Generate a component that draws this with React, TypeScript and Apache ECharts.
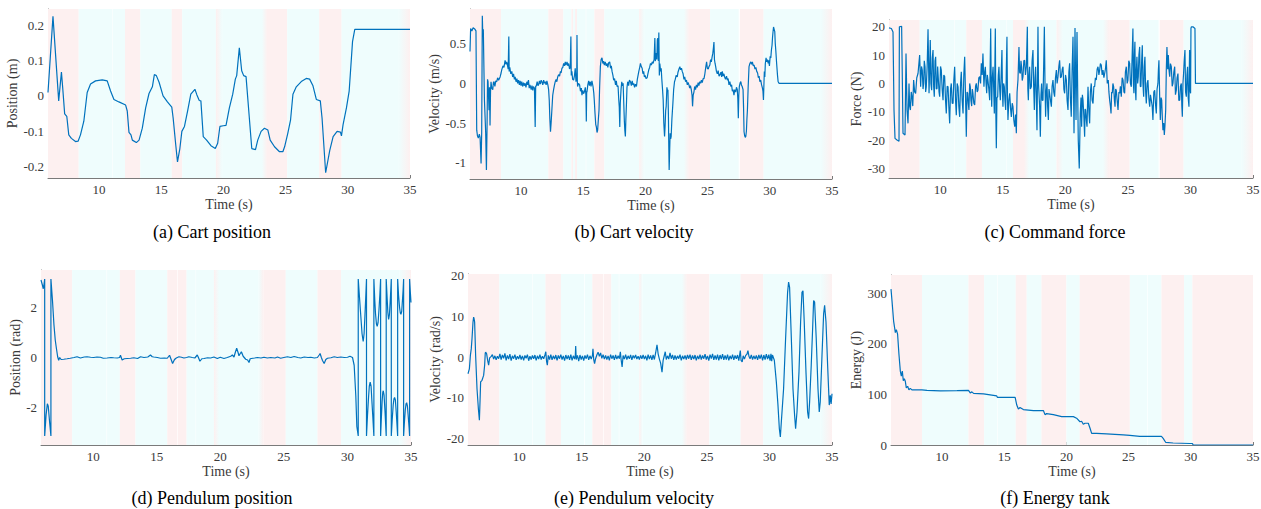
import React, { useEffect, useRef } from "react";
import * as echarts from "echarts";

const X_MIN = 5.9;
const X_MAX = 35;
const LINE_COLOR = "#0072bd";
const PINK = "#fdf0f0";
const CYAN = "#effdfd";

const xTicks = [10, 15, 20, 25, 30, 35];

const cartPosition: [number, number][] = [
  [5.9, 0.01], [6.3, 0.227], [6.76, -0.014], [6.98, 0.068], [7.08, 0.024], [7.24, -0.051], [7.41, -0.058],
  [7.57, -0.111], [7.78, -0.121], [8.11, -0.13], [8.32, -0.129], [8.51, -0.111], [8.78, -0.072], [9.05, 0.01],
  [9.32, 0.034], [9.72, 0.043], [10.26, 0.046], [10.66, 0.043], [10.93, 0.014], [11.2, -0.01], [11.6, -0.017],
  [12.14, -0.026], [12.27, -0.043], [12.41, -0.104], [12.57, -0.111], [12.68, -0.126], [13.0, -0.133],
  [13.22, -0.126], [13.48, -0.092], [13.75, -0.034], [14.02, 0.007], [14.29, 0.026], [14.45, 0.061],
  [14.61, 0.058], [14.83, 0.039], [15.15, 0.0], [15.5, -0.017], [15.85, -0.032], [15.96, -0.063],
  [16.17, -0.14], [16.31, -0.188], [16.5, -0.15], [16.66, -0.101], [16.87, -0.087], [17.12, -0.043],
  [17.38, 0.005], [17.71, 0.019], [17.87, 0.003], [18.06, -0.013], [18.19, -0.014], [18.38, -0.116],
  [18.65, -0.126], [19.0, -0.142], [19.35, -0.15], [19.54, -0.135], [19.72, -0.087], [19.99, -0.085],
  [20.21, -0.084], [20.48, -0.034], [20.75, 0.005], [20.96, 0.048], [21.07, 0.058], [21.28, 0.137],
  [21.47, 0.072], [21.63, 0.058], [21.82, 0.055], [22.04, -0.043], [22.28, -0.15], [22.58, -0.153],
  [22.76, -0.126], [23.03, -0.101], [23.3, -0.092], [23.57, -0.097], [23.76, -0.126], [24.11, -0.145],
  [24.51, -0.159], [24.78, -0.159], [24.92, -0.145], [25.18, -0.106], [25.4, -0.068], [25.59, 0.005],
  [25.86, 0.026], [26.26, 0.041], [26.66, 0.05], [26.93, 0.048], [27.2, 0.029], [27.47, -0.01],
  [27.79, -0.014], [27.93, -0.063], [28.22, -0.219], [28.55, -0.155], [28.82, -0.116], [29.14, -0.101],
  [29.41, -0.103], [29.49, -0.114], [29.62, -0.082], [29.89, -0.034], [30.11, 0.014], [30.38, 0.155],
  [30.56, 0.19], [35, 0.19],
];

const cartVelocity: [number, number][] = [
  [5.9, 0.4], [5.95, 0.69], [6.05, 0.66], [6.15, 0.7], [6.3, 0.68], [6.38, 0.66], [6.44, -0.59], [6.5, -0.66],
  [6.57, -0.69], [6.65, -0.64], [6.71, -0.68], [6.79, -1.01], [6.84, -0.62], [6.89, 0.85], [6.93, 0.6],
  [6.97, 0.68], [7.06, -0.21], [7.16, -0.62], [7.22, -1.09], [7.27, -0.55], [7.31, 0.05], [7.35, 0.02],
  [7.43, -0.34], [7.47, -0.05], [7.51, -0.53], [7.55, -0.1], [7.59, 0.02], [7.65, -0.06], [7.73, -0.08],
  [7.78, 0.01], [7.83, 0.02], [7.9, -0.04], [7.97, 0.03], [8.05, 0.02], [8.12, 0.07], [8.2, 0.04], [8.32, 0.08],
  [8.4, 0.13], [8.45, 0.17], [8.55, 0.22], [8.63, 0.2], [8.72, 0.29], [8.8, 0.24], [8.85, 0.27], [8.91, 0.23],
  [8.97, 0.18], [9.02, 0.59], [9.05, 0.15], [9.1, 0.2], [9.18, 0.12], [9.26, 0.15], [9.33, 0.08], [9.4, 0.12],
  [9.47, 0.05], [9.53, 0.08], [9.6, 0.02], [9.67, 0.06], [9.73, 0.0], [9.8, 0.04], [9.87, -0.02], [9.93, 0.03],
  [10.0, -0.03], [10.06, 0.02], [10.13, -0.04], [10.2, 0.01], [10.26, -0.03], [10.33, 0.0], [10.4, -0.05],
  [10.47, 0.02], [10.53, -0.02], [10.6, 0.04], [10.66, -0.06], [10.72, -0.02], [10.82, -0.08], [10.88, -0.03],
  [10.95, -0.09], [11.0, -0.04], [11.08, -0.06], [11.14, -0.55], [11.18, -0.03], [11.22, -0.04], [11.3, 0.02],
  [11.36, -0.03], [11.41, -0.02], [11.48, 0.03], [11.55, -0.01], [11.62, 0.04], [11.68, 0.02], [11.75, -0.02],
  [11.82, 0.04], [11.88, 0.0], [11.95, 0.02], [12.02, -0.02], [12.08, 0.03], [12.16, -0.02], [12.22, -0.08],
  [12.27, -0.21], [12.32, -0.45], [12.37, -0.61], [12.42, -0.5], [12.48, -0.34], [12.55, -0.15], [12.62, -0.08],
  [12.68, -0.03], [12.75, 0.02], [12.82, 0.05], [12.88, 0.02], [12.95, 0.08], [13.02, 0.11], [13.1, 0.09],
  [13.17, 0.15], [13.22, 0.13], [13.29, 0.19], [13.36, 0.2], [13.43, 0.25], [13.5, 0.22], [13.56, 0.27],
  [13.62, 0.23], [13.7, 0.27], [13.77, 0.22], [13.83, 0.25], [13.9, 0.18], [13.96, 0.2], [14.01, 0.59],
  [14.04, 0.1], [14.09, 0.15], [14.15, 0.05], [14.23, 0.04], [14.3, 0.1], [14.36, 0.19], [14.42, 0.02],
  [14.48, 0.08], [14.5, 0.61], [14.53, 0.02], [14.55, -0.04], [14.62, 0.0], [14.71, -0.02], [14.78, -0.1],
  [14.85, -0.06], [14.9, -0.15], [14.96, -0.09], [15.03, -0.13], [15.09, -0.11], [15.17, -0.05], [15.22, -0.15],
  [15.25, -0.48], [15.28, -0.1], [15.3, -0.11], [15.37, -0.02], [15.44, 0.03], [15.5, -0.03], [15.57, 0.02],
  [15.63, -0.04], [15.7, 0.03], [15.79, -0.04], [15.85, -0.12], [15.89, -0.21], [15.95, -0.38], [16.01, -0.52],
  [16.06, -0.55], [16.11, -0.62], [16.16, -0.59], [16.22, -0.45], [16.27, -0.34], [16.32, -0.05], [16.38, 0.21],
  [16.44, 0.3], [16.51, 0.32], [16.58, 0.25], [16.64, 0.28], [16.7, 0.23], [16.77, 0.27], [16.85, 0.22],
  [16.92, 0.25], [16.98, 0.2], [17.05, 0.26], [17.13, 0.27], [17.2, 0.19], [17.26, 0.22], [17.32, 0.15],
  [17.39, 0.1], [17.45, 0.04], [17.52, 0.06], [17.6, -0.02], [17.66, 0.03], [17.72, -0.04], [17.8, -0.03],
  [17.86, -0.21], [17.9, -0.3], [17.94, -0.55], [17.98, -0.25], [18.04, -0.08], [18.1, 0.02], [18.15, -0.03],
  [18.21, 0.0], [18.26, -0.25], [18.31, -0.48], [18.35, -0.6], [18.39, -0.67], [18.43, -0.45], [18.47, -0.29],
  [18.52, -0.05], [18.58, 0.02], [18.65, -0.03], [18.72, 0.04], [18.8, 0.02], [18.87, -0.03], [18.94, 0.03],
  [19.0, -0.02], [19.06, 0.0], [19.13, -0.05], [19.2, -0.01], [19.28, -0.04], [19.35, 0.05], [19.41, 0.1],
  [19.47, 0.15], [19.53, 0.19], [19.6, 0.25], [19.67, 0.21], [19.74, 0.19], [19.8, 0.12], [19.86, 0.15],
  [19.92, 0.08], [19.98, 0.1], [20.05, 0.06], [20.14, 0.07], [20.2, 0.12], [20.27, 0.17], [20.34, 0.2],
  [20.41, 0.25], [20.48, 0.23], [20.55, 0.27], [20.62, 0.25], [20.7, 0.3], [20.76, 0.57], [20.8, 0.28],
  [20.86, 0.38], [20.92, 0.3], [20.96, 0.55], [21.0, 0.57], [21.04, 0.28], [21.08, 0.64], [21.12, 0.1],
  [21.16, 0.25], [21.22, 0.15], [21.27, 0.19], [21.32, 0.05], [21.38, -0.08], [21.43, -0.21], [21.48, -0.5],
  [21.54, -0.67], [21.58, -0.55], [21.63, -0.34], [21.67, -0.29], [21.73, -0.05], [21.78, -0.1], [21.81, -0.08],
  [21.85, -0.4], [21.88, -0.8], [21.91, -1.09], [21.95, -0.85], [21.99, -0.63], [22.03, -0.7], [22.07, -0.67],
  [22.13, -0.45], [22.21, -0.25], [22.27, -0.08], [22.34, 0.02], [22.4, 0.05], [22.47, 0.1], [22.56, 0.08],
  [22.62, 0.14], [22.7, 0.18], [22.77, 0.21], [22.83, 0.17], [22.9, 0.19], [22.96, 0.15], [23.03, 0.12],
  [23.1, 0.05], [23.16, 0.08], [23.23, 0.02], [23.3, 0.04], [23.37, -0.02], [23.43, 0.01], [23.5, -0.02],
  [23.56, -0.06], [23.62, -0.03], [23.69, -0.08], [23.75, -0.15], [23.79, -0.29], [23.84, -0.15], [23.9, -0.11],
  [23.96, -0.04], [24.03, -0.08], [24.1, -0.02], [24.17, -0.05], [24.24, 0.01], [24.3, -0.03], [24.37, 0.02],
  [24.44, 0.0], [24.5, 0.04], [24.57, 0.01], [24.64, 0.06], [24.71, 0.06], [24.78, 0.12], [24.85, 0.2],
  [24.92, 0.27], [24.98, 0.19], [25.05, 0.18], [25.11, 0.21], [25.18, 0.23], [25.24, 0.3], [25.3, 0.27],
  [25.36, 0.33], [25.42, 0.38], [25.47, 0.45], [25.51, 0.52], [25.55, 0.3], [25.6, 0.25], [25.65, 0.21],
  [25.71, 0.15], [25.78, 0.12], [25.85, 0.16], [25.92, 0.09], [26.0, 0.11], [26.07, 0.14], [26.13, 0.08],
  [26.18, 0.15], [26.25, 0.09], [26.31, 0.12], [26.37, 0.08], [26.44, 0.05], [26.52, 0.09], [26.59, 0.04],
  [26.65, 0.06], [26.72, -0.02], [26.79, 0.02], [26.86, -0.04], [26.93, -0.02], [26.99, -0.1], [27.05, -0.08],
  [27.12, -0.15], [27.18, -0.08], [27.26, -0.11], [27.32, -0.05], [27.39, -0.08], [27.43, -0.2], [27.47, -0.44],
  [27.51, -0.15], [27.55, -0.04], [27.62, 0.01], [27.67, 0.02], [27.72, -0.02], [27.78, -0.04], [27.85, -0.08],
  [27.89, -0.3], [27.93, -0.61], [27.98, -0.66], [28.03, -0.68], [28.07, -0.67], [28.12, -0.6], [28.16, -0.45],
  [28.2, -0.34], [28.26, -0.05], [28.33, 0.21], [28.4, 0.25], [28.47, 0.27], [28.54, 0.24], [28.6, 0.27],
  [28.67, 0.22], [28.74, 0.23], [28.81, 0.18], [28.88, 0.2], [28.95, 0.15], [29.02, 0.13], [29.08, 0.07],
  [29.14, 0.09], [29.2, 0.02], [29.27, 0.04], [29.34, -0.02], [29.41, -0.06], [29.45, -0.1], [29.49, -0.21],
  [29.53, 0.0], [29.56, 0.15], [29.6, 0.08], [29.64, 0.25], [29.7, 0.32], [29.75, 0.27], [29.81, 0.3],
  [29.87, 0.25], [29.92, 0.29], [29.97, 0.22], [30.03, 0.34], [30.08, 0.32], [30.13, 0.42], [30.18, 0.48],
  [30.22, 0.58], [30.26, 0.65], [30.3, 0.71], [30.35, 0.68], [30.4, 0.65], [30.44, 0.5], [30.48, 0.42],
  [30.55, 0.25], [30.62, 0.1], [30.67, 0.02], [30.75, 0.0], [35, 0],
];

const commandForce: [number, number][] = [
  [5.9, 19.6], [6.09, 19.4], [6.22, 18.2], [6.3, -9.4], [6.38, -19.4], [6.54, -20], [6.7, -20.4], [6.73, 20],
  [6.91, 20.2], [6.97, 0], [7.02, -17.6], [7.18, -18.2], [7.26, 10.6], [7.34, -9.4], [7.42, -14.1], [7.5, 0],
  [7.55, -8], [7.61, -9.4], [7.68, -3], [7.74, -4.7], [7.8, -8], [7.87, 1.2], [7.95, -3], [8.03, -3.5], [8.12, 2],
  [8.22, 3.5], [8.35, 10], [8.43, -1.2], [8.5, 6], [8.56, 4.7], [8.62, -2], [8.67, 0], [8.72, 8], [8.78, 5.9],
  [8.83, -3], [8.88, -1.2], [8.95, 6], [9.02, 19.1], [9.1, -3.5], [9.15, 5], [9.2, 15.3], [9.25, 0], [9.31, -2.4],
  [9.36, 9], [9.42, 11.8], [9.47, -1], [9.52, -4.7], [9.58, 8], [9.63, 9.4], [9.68, -2], [9.74, -1.8], [9.79, 6],
  [9.84, 5.9], [9.9, -3], [9.95, -4.7], [10.02, 6], [10.08, 4.7], [10.15, -2], [10.22, -5.9], [10.28, 3],
  [10.35, 2.4], [10.42, -6], [10.48, -10.6], [10.55, -1], [10.62, -1.2], [10.68, -8], [10.75, -14.1], [10.82, -2],
  [10.88, 0], [10.95, -7], [11.02, -7.1], [11.08, 1], [11.15, 5.9], [11.22, -6], [11.28, -11.2], [11.35, 0],
  [11.42, -1.2], [11.48, -8], [11.55, -11.8], [11.62, 0], [11.68, 4.1], [11.75, -6], [11.82, -10.6], [11.88, 3],
  [11.95, 9.4], [12.02, -5], [12.08, -18.8], [12.14, -3], [12.19, -3.5], [12.24, -7], [12.29, -9.4], [12.35, 0],
  [12.4, -1.2], [12.45, -6], [12.51, -8], [12.56, -2], [12.61, -3.5], [12.68, -7], [12.75, -7.6], [12.82, -1],
  [12.88, 0], [12.95, -3], [13.01, -2.4], [13.08, 2], [13.15, 2.4], [13.22, 0], [13.28, 7.1], [13.35, 3],
  [13.41, 10.6], [13.49, -1.2], [13.55, 4], [13.6, 5.9], [13.66, 0], [13.71, -3.5], [13.76, 3], [13.81, 1.2],
  [13.88, -2], [13.95, -5.9], [14.03, 19.4], [14.07, 0], [14.11, -8.2], [14.16, 2], [14.22, 5.9], [14.27, -2],
  [14.32, -10.6], [14.4, 19.4], [14.44, -10], [14.48, -22.9], [14.53, -5], [14.59, -4.7], [14.64, 3],
  [14.69, 5.9], [14.75, -2], [14.8, -5.9], [14.86, 2], [14.93, 11.8], [14.97, -3], [15.01, -8.2], [15.06, 0],
  [15.12, -1.2], [15.17, -6], [15.23, -9.4], [15.28, 5], [15.33, 16.5], [15.37, -5], [15.41, -12.9], [15.48, -6],
  [15.55, -3.5], [15.62, -9], [15.68, -11.8], [15.75, -7], [15.81, -8.2], [15.88, -13], [15.95, -15.3],
  [16.02, -11], [16.08, -17.6], [16.14, -3], [16.21, 1.2], [16.29, 12.9], [16.34, 4], [16.4, 3.5], [16.45, 8],
  [16.5, 5.9], [16.55, 1], [16.61, 2.4], [16.68, 8], [16.74, 8.2], [16.81, 3], [16.88, 5.9], [16.96, 20],
  [17.0, -2], [17.04, -5.9], [17.09, 3], [17.14, 5.9], [17.2, -2], [17.28, -1.2], [17.34, 8], [17.41, 11.8],
  [17.46, 0], [17.52, -9.4], [17.57, 2], [17.62, 5.9], [17.68, -6], [17.73, -16.5], [17.81, 20], [17.85, 0],
  [17.89, -3.5], [17.94, -8], [18.0, -18.8], [18.05, -4], [18.1, 0], [18.15, -6], [18.21, -5.9], [18.26, 5],
  [18.32, 20], [18.37, 0], [18.42, -11.8], [18.47, -3], [18.53, 0], [18.58, -8], [18.64, -12.9], [18.69, -2],
  [18.74, -3.5], [18.81, -6], [18.88, -8.2], [18.94, -1], [19.01, 1.2], [19.07, -3], [19.14, -4.7], [19.21, 2],
  [19.28, 4.7], [19.34, 0], [19.41, 2.4], [19.48, 6], [19.54, 8.2], [19.61, 2], [19.68, 2.4], [19.75, 5],
  [19.81, 5.9], [19.88, -2], [19.94, -3.5], [20.01, 3], [20.08, 1.2], [20.14, -6], [20.21, -9.4], [20.28, 4],
  [20.34, 7.1], [20.4, -5], [20.47, -11.8], [20.54, 5], [20.61, 16.5], [20.69, -17.6], [20.77, 19.6],
  [20.85, -12.9], [20.93, 18.2], [21.03, -20], [21.11, -30], [21.19, -10.6], [21.25, -5], [21.3, -15.3],
  [21.36, -4], [21.41, -5.9], [21.48, -12], [21.54, -18.8], [21.58, -9], [21.62, -9.4], [21.68, -13],
  [21.73, -15.3], [21.78, -6], [21.81, -1.2], [21.88, -10], [21.94, -14.1], [22.0, -3], [22.07, 0], [22.14, -6],
  [22.21, -7.1], [22.28, -1], [22.34, -1.2], [22.4, 2], [22.47, 1.2], [22.54, 5], [22.61, 5.9], [22.68, 3],
  [22.74, 4.7], [22.8, 7], [22.87, 6.5], [22.94, 3], [23.01, 4.7], [23.08, 2], [23.14, 3.5], [23.2, 5],
  [23.27, 8.2], [23.35, 0], [23.43, 1.2], [23.48, -3], [23.54, -5.9], [23.6, -8], [23.65, -10.6], [23.7, -3],
  [23.75, -3.5], [23.8, 0], [23.86, -1.2], [23.92, -6], [23.97, -8.2], [24.02, -2], [24.07, -2.4], [24.14, -6],
  [24.21, -9.4], [24.28, -3], [24.34, -3.5], [24.4, -1], [24.47, -4.7], [24.54, 2], [24.61, 1.2], [24.68, -3],
  [24.74, -3.5], [24.8, 4], [24.87, 5.9], [24.94, 0], [25.0, 1.2], [25.07, 8], [25.14, 7.1], [25.2, 0],
  [25.27, -1.2], [25.34, 10], [25.4, 19.4], [25.44, 0], [25.48, -3.5], [25.52, 10], [25.56, 14.7], [25.6, -2],
  [25.64, -5.9], [25.68, 5], [25.72, 9.4], [25.78, 0], [25.83, 2.4], [25.88, 10], [25.94, 12.9], [25.99, -1],
  [26.04, -1.2], [26.1, 8], [26.15, 13.5], [26.2, 0], [26.26, -4.7], [26.31, 6], [26.36, 9.4], [26.42, -3],
  [26.47, -7.1], [26.54, 0], [26.6, 1.2], [26.67, -5], [26.74, -8.2], [26.8, -4], [26.87, -5.9], [26.94, -8],
  [27.0, -12.9], [27.07, -3], [27.14, -2.4], [27.2, -7], [27.27, -10.6], [27.33, -2], [27.4, 0], [27.44, 5],
  [27.48, 8.2], [27.54, -5], [27.59, -12.9], [27.65, -5], [27.7, -5.9], [27.75, -12], [27.8, -16.5],
  [27.86, -14], [27.91, -18.2], [27.96, -15], [28.02, -9.4], [28.07, 5], [28.12, 12.9], [28.18, 5], [28.23, 10],
  [28.28, 5], [28.34, 2.4], [28.4, 7], [28.47, 5.9], [28.54, -1], [28.6, 0], [28.67, 4], [28.74, 5.9],
  [28.8, -4], [28.87, -2.4], [28.93, 2], [29.0, 3.5], [29.07, -6], [29.14, -5.9], [29.2, -1], [29.27, 0],
  [29.31, -8], [29.35, -11.8], [29.4, 0], [29.45, 3.5], [29.5, 8], [29.56, 11.8], [29.61, -3], [29.67, -4.7],
  [29.72, 3], [29.77, 5.9], [29.82, -5], [29.88, -8.2], [29.91, 5], [29.93, 11.8], [29.97, -2], [30.01, -3.5],
  [30.04, 19.4], [30.07, 20], [30.2, 20], [30.36, 19.4], [30.4, 0], [35, 0],
];

const pendulumPosition: [number, number][] = [
  [5.9, 3.1], [6.01, 2.9], [6.08, 2.75], [6.13, 2.9], [6.19, 3.14], [6.19, -3.14], [6.3, -2.3], [6.4, -1.85],
  [6.47, -1.95], [6.58, -2.6], [6.68, -3.14], [6.68, 3.14], [6.8, 2.3], [6.92, 1.3], [7.02, 0.7], [7.11, 0.37],
  [7.21, 0.03], [7.29, -0.11], [7.37, 0.0], [7.48, -0.08], [7.69, -0.07], [7.95, -0.05], [8.2, -0.03],
  [8.5, 0.0], [8.74, 0.03], [9.0, -0.02], [9.3, 0.02], [9.52, 0.03], [9.8, 0.01], [10.05, 0.0], [10.3, 0.02],
  [10.57, 0.01], [10.8, -0.03], [11.1, -0.02], [11.4, 0.0], [11.62, -0.01], [11.9, -0.02], [12.08, 0.0],
  [12.15, 0.09], [12.28, -0.1], [12.45, -0.05], [12.68, -0.04], [12.95, -0.03], [13.2, -0.01], [13.5, -0.04],
  [13.73, 0.03], [14.0, 0.0], [14.3, 0.02], [14.51, 0.1], [14.65, 0.03], [14.78, 0.02], [15.05, 0.0],
  [15.3, -0.03], [15.6, -0.02], [15.83, -0.03], [16.01, 0.09], [16.15, -0.1], [16.25, -0.24], [16.38, -0.1],
  [16.48, -0.04], [16.62, 0.0], [16.75, 0.03], [16.95, 0.01], [17.14, -0.02], [17.35, 0.0], [17.53, 0.03],
  [17.8, 0.0], [18.0, -0.02], [18.19, 0.1], [18.28, 0.0], [18.4, -0.15], [18.55, -0.05], [18.72, -0.04],
  [19.0, -0.01], [19.24, -0.02], [19.5, 0.02], [19.77, -0.04], [20.0, 0.01], [20.29, -0.04], [20.55, 0.0],
  [20.82, 0.05], [20.95, 0.1], [21.08, 0.02], [21.18, 0.2], [21.29, 0.37], [21.4, 0.2], [21.47, 0.07],
  [21.56, 0.15], [21.66, 0.23], [21.8, 0.05], [22.0, -0.07], [22.15, -0.1], [22.26, -0.2], [22.35, -0.05],
  [22.44, -0.04], [22.7, -0.02], [22.92, 0.0], [23.2, -0.02], [23.44, 0.01], [23.7, -0.02], [23.97, 0.0],
  [24.3, -0.02], [24.5, 0.02], [24.75, -0.03], [25.0, 0.0], [25.28, 0.03], [25.55, 0.0], [25.81, 0.04],
  [26.1, 0.0], [26.33, -0.02], [26.6, 0.02], [26.9, 0.0], [27.12, 0.01], [27.4, -0.02], [27.64, 0.0],
  [27.78, 0.1], [27.85, 0.16], [27.95, 0.0], [28.04, -0.12], [28.17, -0.24], [28.3, -0.08], [28.43, -0.03],
  [28.7, -0.01], [28.96, 0.03], [29.2, 0.0], [29.48, 0.02], [29.75, 0.0], [30.01, 0.01], [30.2, 0.05],
  [30.4, 0.0], [30.53, -0.31], [30.66, -1.54], [30.74, -2.76], [30.85, -3.14], [30.85, 3.14], [30.95, 2.4],
  [31.06, 1.6], [31.15, 0.95], [31.24, 0.64], [31.31, 0.95], [31.37, 1.6], [31.44, 2.4], [31.5, 3.14],
  [31.5, -3.14], [31.58, -2.3], [31.66, -1.6], [31.72, -1.15], [31.79, -0.99], [31.86, -1.15], [31.92, -1.7],
  [32.0, -2.4], [32.08, -3.14], [32.08, 3.14], [32.15, 2.3], [32.21, 1.75], [32.28, 1.35], [32.34, 1.25],
  [32.41, 1.4], [32.48, 1.9], [32.55, 2.5], [32.61, 3.14], [32.61, -3.14], [32.67, -2.4], [32.73, -1.75],
  [32.78, -1.4], [32.82, -1.33], [32.88, -1.5], [32.95, -2.1], [33.0, -2.6], [33.05, -3.14], [33.05, 3.14],
  [33.12, 2.4], [33.18, 1.8], [33.24, 1.52], [33.3, 1.7], [33.36, 2.2], [33.41, 2.7], [33.45, 3.14],
  [33.45, -3.14], [33.52, -2.5], [33.6, -1.9], [33.66, -1.65], [33.71, -1.6], [33.77, -1.7], [33.84, -2.2],
  [33.9, -2.7], [33.95, -3.14], [33.95, 3.14], [34.02, 2.5], [34.1, 2.0], [34.16, 1.78], [34.21, 1.73],
  [34.27, 1.85], [34.33, 2.3], [34.38, 2.7], [34.42, 3.14], [34.42, -3.14], [34.48, -2.6], [34.55, -2.1],
  [34.61, -1.85], [34.66, -1.81], [34.72, -1.95], [34.79, -2.4], [34.85, -2.8], [34.89, -3.14], [34.89, 3.14],
  [34.95, 2.6], [35.0, 2.2],
];

const pendulumVelocity: [number, number][] = [
  [5.9, -4.1], [6.01, -2.9], [6.09, 0.4], [6.16, 2], [6.22, 4.5], [6.3, 8.6], [6.35, 9.8], [6.38, 9.5],
  [6.43, 8.6], [6.51, 0.4], [6.62, -7.8], [6.73, -12.7], [6.81, -15.5], [6.86, -11], [6.91, -6.1], [7.02, -5.7],
  [7.15, -4.5], [7.23, -2.0], [7.28, 1.0], [7.31, 1.2], [7.39, 0.8], [7.47, -0.8], [7.55, -2.0], [7.63, -0.2],
  [7.74, 0.1], [7.85, 0.6], [7.95, -0.5], [8.05, 0.3], [8.15, -0.7], [8.25, 0.2], [8.35, -0.4], [8.45, 0.8],
  [8.55, -0.6], [8.65, 0.5], [8.75, -0.3], [8.85, 0.9], [8.95, -0.8], [9.05, 0.4], [9.15, -0.5], [9.25, 0.7],
  [9.35, -0.9], [9.45, 0.3], [9.55, -0.4], [9.65, 0.6], [9.75, -0.7], [9.85, 0.2], [9.95, -0.5], [10.05, 0.5],
  [10.15, -0.6], [10.25, 0.3], [10.35, -0.8], [10.45, 0.4], [10.55, -0.3], [10.65, 0.6], [10.75, -0.9],
  [10.85, 0.2], [10.95, -0.6], [11.05, 0.4], [11.15, -0.4], [11.25, 0.5], [11.35, -0.8], [11.45, 0.3],
  [11.55, -0.5], [11.65, 0.6], [11.75, -0.6], [11.85, 0.2], [11.95, -0.4], [12.05, 0.5], [12.12, 1.3],
  [12.18, -1.0], [12.24, -2.0], [12.32, 0.4], [12.42, -0.6], [12.52, 0.6], [12.62, -0.7], [12.72, 0.3],
  [12.82, -0.5], [12.92, 0.5], [13.02, -0.8], [13.12, 0.4], [13.22, -0.4], [13.32, 0.6], [13.42, -0.6],
  [13.52, 0.3], [13.62, -0.9], [13.72, 0.5], [13.82, -0.5], [13.92, 0.4], [14.02, -0.7], [14.12, 0.6],
  [14.22, -0.8], [14.32, 0.3], [14.42, -0.5], [14.48, 0.5], [14.51, 2.7], [14.55, -0.6], [14.65, 0.4],
  [14.75, -1.0], [14.85, 0.5], [14.95, -0.6], [15.05, 0.3], [15.15, -0.9], [15.25, 0.4], [15.35, -0.4],
  [15.45, 0.6], [15.55, -0.7], [15.65, 0.3], [15.75, -0.5], [15.85, 0.4], [15.89, 2.0], [15.95, -0.6],
  [16.02, -1.6], [16.1, -0.4], [16.2, 0.5], [16.3, 1.2], [16.4, 0.2], [16.5, 1.0], [16.6, -0.3], [16.7, 0.6],
  [16.8, -0.5], [16.9, 0.4], [17.0, -0.6], [17.1, 0.3], [17.2, -0.8], [17.3, 0.6], [17.4, -0.4], [17.5, 0.4],
  [17.6, -0.7], [17.7, 0.5], [17.8, -0.5], [17.9, 0.3], [18.0, -0.4], [18.08, 1.3], [18.14, -0.6],
  [18.22, -2.4], [18.3, 0.4], [18.4, -0.5], [18.5, 0.6], [18.6, -0.6], [18.7, 0.3], [18.8, -0.4], [18.9, 0.5],
  [19.0, -0.7], [19.1, 0.4], [19.2, -0.3], [19.3, 0.5], [19.4, -0.5], [19.5, 0.2], [19.6, -0.6], [19.7, 0.4],
  [19.8, -0.4], [19.9, 0.5], [20.0, -0.5], [20.1, 0.3], [20.2, -0.8], [20.3, 0.6], [20.4, -0.5], [20.5, 0.4],
  [20.6, -0.7], [20.7, 0.5], [20.8, -0.6], [20.9, 1.0], [21.01, 3.0], [21.1, 0.8], [21.2, -0.5], [21.3, -1.5],
  [21.41, -3.7], [21.5, -0.8], [21.58, 0.2], [21.67, 1.3], [21.75, -0.6], [21.85, 0.3], [21.95, -0.5],
  [22.05, 1.0], [22.15, -0.4], [22.25, 0.5], [22.35, -0.7], [22.45, 0.4], [22.55, -0.6], [22.65, 0.3],
  [22.75, -0.4], [22.85, 0.6], [22.95, -0.8], [23.05, 0.3], [23.15, -0.5], [23.25, 0.4], [23.35, -0.6],
  [23.45, 0.5], [23.55, -0.4], [23.65, 0.6], [23.75, -0.7], [23.85, 0.4], [23.95, -0.5], [24.05, 0.5],
  [24.15, -0.8], [24.25, 0.3], [24.35, -0.5], [24.45, 0.6], [24.55, -0.6], [24.65, 0.4], [24.75, -0.4],
  [24.85, 0.7], [24.95, -0.6], [25.05, 0.3], [25.15, -0.9], [25.25, 0.6], [25.35, -0.4], [25.45, 0.8],
  [25.55, -0.7], [25.65, 0.4], [25.75, -0.6], [25.85, 0.6], [25.95, -0.8], [26.05, 0.5], [26.15, -0.5],
  [26.25, 0.7], [26.35, -0.7], [26.45, 0.4], [26.55, -0.6], [26.65, 0.6], [26.75, -0.8], [26.85, 0.3],
  [26.95, -0.5], [27.05, 0.6], [27.15, -0.7], [27.25, 0.4], [27.35, -0.4], [27.45, 0.5], [27.55, -0.9],
  [27.62, 0.6], [27.67, 1.6], [27.73, -0.8], [27.82, -1.2], [27.9, 0.3], [28.0, -0.5], [28.1, 0.4],
  [28.2, 0.7], [28.28, 1.6], [28.36, 0.2], [28.45, -0.4], [28.55, 0.5], [28.65, -0.6], [28.75, 0.3],
  [28.85, -0.5], [28.95, 0.4], [29.05, -0.7], [29.15, 0.5], [29.25, -0.4], [29.35, 0.6], [29.45, -0.8],
  [29.55, 0.5], [29.65, -0.6], [29.75, 0.7], [29.85, -0.5], [29.95, 0.6], [30.05, -0.9], [30.12, 0.8],
  [30.18, -1.0], [30.24, 0.5], [30.28, 0.4], [30.39, -0.8], [30.55, -6.1], [30.68, -11.8], [30.79, -17.6],
  [30.87, -19.6], [30.95, -15.9], [31.13, -7.8], [31.29, 4.5], [31.45, 15.9], [31.53, 18.4], [31.61, 17.1],
  [31.75, 4.5], [31.88, -7.8], [32.01, -14.3], [32.09, -17.6], [32.2, -13.5], [32.36, -3.7], [32.49, 8.6],
  [32.6, 15.9], [32.68, 16.3], [32.78, 8.6], [32.92, -3.7], [33.05, -13.5], [33.13, -15.1], [33.21, -11.0],
  [33.34, -2.0], [33.45, 6.9], [33.53, 13.9], [33.61, 13.5], [33.74, 4.5], [33.88, -7.8], [33.98, -13.5],
  [34.06, -11.0], [34.2, 0.4], [34.33, 10.6], [34.41, 12.7], [34.52, 8.6], [34.65, -2.0], [34.78, -11.8],
  [34.86, -9.4], [34.93, -11.5], [35.0, -9.0],
];

const energyTank: [number, number][] = [
  [5.9, 308], [5.98, 285], [6.11, 245], [6.25, 222], [6.33, 228], [6.43, 219], [6.54, 179], [6.65, 146],
  [6.73, 136], [6.81, 146], [6.89, 127], [6.97, 131], [7.05, 126], [7.13, 113], [7.24, 116], [7.34, 109],
  [7.45, 112], [7.58, 109], [8.39, 109], [8.79, 108], [9.86, 107], [11.2, 107.5], [12.13, 108], [12.27, 103],
  [12.4, 105], [12.54, 102], [13.34, 101], [14.4, 97], [14.46, 94], [15.88, 94], [16.01, 79], [16.14, 71],
  [16.27, 74], [16.54, 70], [17.35, 68], [18.15, 68], [18.28, 60], [18.41, 62], [18.95, 60], [19.62, 56],
  [20.56, 56], [20.82, 53], [21.09, 46], [21.22, 47], [21.36, 41], [21.49, 43], [21.76, 43], [21.9, 33],
  [22.03, 23], [22.43, 23], [23.23, 22], [24.57, 20], [25.1, 19], [25.9, 17], [27.64, 17], [27.78, 13],
  [27.99, 5], [28.58, 4], [29.92, 3], [30.13, 3], [30.19, 0], [35, 0],
];

type Band = [number, number, string];

const bandsA: Band[] = [
  [5.9, 8.37, "p"], [8.37, 11.08, "c"], [11.13, 12.09, "c"], [12.09, 13.32, "p"], [13.32, 15.85, "c"],
  [15.85, 16.69, "p"], [16.69, 19.4, "c"], [19.4, 19.9, "pc"], [19.9, 23.1, "c"], [23.1, 23.5, "cp"],
  [23.5, 25.13, "p"], [25.13, 27.7, "c"], [27.7, 29.5, "p"], [29.5, 34.1, "c"], [34.1, 35, "cp"],
];
const bandsB: Band[] = [
  [5.9, 8.4, "p"], [8.4, 12.2, "c"], [12.2, 13.4, "p"], [13.4, 14.05, "c"], [14.05, 14.2, "p"],
  [14.2, 14.35, "c"], [14.35, 14.5, "p"], [14.5, 15.2, "c"], [15.25, 15.9, "c"], [15.9, 16.7, "p"],
  [16.7, 19.5, "c"], [19.5, 19.9, "pc"], [19.9, 23.1, "c"], [23.1, 23.5, "cp"], [23.5, 25.2, "p"],
  [25.2, 27.5, "c"], [27.6, 29.5, "p"], [29.5, 34.1, "c"], [34.1, 35, "cp"],
];
const bandsC: Band[] = [
  [5.9, 8.35, "p"], [8.35, 11.13, "c"], [11.18, 12.08, "c"], [12.08, 13.33, "p"], [13.33, 15.26, "c"],
  [15.3, 15.81, "c"], [15.81, 16.69, "p"], [16.69, 17.1, "pc"], [17.1, 19.3, "c"], [19.3, 19.8, "pc"],
  [19.8, 23.0, "c"], [23.0, 23.5, "cp"], [23.5, 25.14, "p"], [25.14, 27.45, "c"], [27.55, 29.45, "p"],
  [29.45, 34.1, "c"], [34.1, 35, "cp"],
];
const bandsD: Band[] = [
  [5.9, 8.35, "p"], [8.35, 11.05, "c"], [11.1, 12.1, "c"], [12.1, 13.33, "p"], [13.33, 15.83, "c"],
  [15.83, 16.6, "p"], [16.65, 17.35, "p"], [17.35, 18.06, "c"], [18.1, 19.5, "c"], [19.5, 19.9, "pc"],
  [19.9, 23.0, "c"], [23.0, 23.4, "cp"], [23.4, 25.15, "p"], [25.15, 27.65, "c"], [27.65, 29.5, "p"],
  [29.5, 34.1, "c"], [34.1, 35, "cp"],
];
const bandsE: Band[] = [
  [5.9, 8.4, "p"], [8.4, 11.05, "c"], [11.1, 12.1, "c"], [12.1, 13.33, "p"], [13.33, 15.2, "c"],
  [15.25, 15.84, "c"], [15.84, 16.7, "p"], [16.75, 17.36, "p"], [17.36, 17.95, "c"], [18.0, 19.6, "c"],
  [19.6, 19.85, "pc"], [19.85, 23.0, "c"], [23.0, 23.4, "cp"], [23.4, 25.2, "p"], [25.2, 27.7, "c"],
  [27.7, 29.5, "p"], [29.5, 34.1, "c"], [34.1, 35, "cp"],
];
const bandsF: Band[] = [
  [5.9, 8.39, "p"], [8.39, 12.13, "c"], [12.13, 13.39, "p"], [13.39, 14.45, "c"], [14.5, 15.93, "c"],
  [15.93, 16.81, "p"], [16.81, 18.0, "c"], [18.0, 20.0, "p"], [20.0, 21.07, "c"], [21.07, 25.1, "p"],
  [25.1, 26.5, "c"], [26.55, 27.64, "c"], [27.64, 29.46, "p"], [29.46, 30.13, "c"], [30.13, 35, "p"],
];

const captions = [
  "(a) Cart position",
  "(b) Cart velocity",
  "(c) Command force",
  "(d) Pendulum position",
  "(e) Pendulum velocity",
  "(f) Energy tank",
];
const yNames = ["Position (m)", "Velocity (m/s)", "Force (N)", "Position (rad)", "Velocity (rad/s)", "Energy (J)"];

function bandColor(kind: string): any {
  if (kind === "p") return PINK;
  if (kind === "c") return CYAN;
  const stops = kind === "cp" ? [CYAN, PINK] : [PINK, CYAN];
  return {
    type: "linear", x: 0, y: 0, x2: 1, y2: 0,
    colorStops: [{ offset: 0, color: stops[0] }, { offset: 1, color: stops[1] }],
  };
}

const panels = [
  { grid: { left: 48, top: 9, width: 362, height: 169 }, yMin: -0.234, yMax: 0.248, step: 0.1, split: 5, data: cartPosition, bands: bandsA, nameGap: 26, cap: [212, 232] },
  { grid: { left: 470, top: 9, width: 362, height: 170 }, yMin: -1.205, yMax: 0.936, step: 0.5, split: 5, data: cartVelocity, bands: bandsB, nameGap: 25, cap: [634, 232] },
  { grid: { left: 889, top: 20, width: 364, height: 158 }, yMin: -33.4, yMax: 22.4, step: 10, split: 5, data: commandForce, bands: bandsC, nameGap: 24, cap: [1055, 232] },
  { grid: { left: 41, top: 270, width: 370, height: 175 }, yMin: -3.5, yMax: 3.5, step: 2, split: 4, data: pendulumPosition, bands: bandsD, nameGap: 19, cap: [212, 498] },
  { grid: { left: 468, top: 274, width: 364, height: 171 }, yMin: -21.6, yMax: 20.4, step: 10, split: 5, data: pendulumVelocity, bands: bandsE, nameGap: 24, cap: [634, 498] },
  { grid: { left: 891, top: 275, width: 362, height: 170 }, yMin: 0, yMax: 336, step: 100, split: 3, data: energyTank, bands: bandsF, nameGap: 26, cap: [1055, 498] },
];

const SERIF = "'Liberation Serif', 'Times New Roman', serif";
const AXIS_COLOR = "#7a7a7a";
const LABEL_COLOR = "#3a3a3a";

function isMultiple(v: number, step: number) {
  const r = v / step;
  return Math.abs(r - Math.round(r)) < 1e-6;
}

export default function App() {
  const ref = useRef<HTMLDivElement>(null);

  useEffect(() => {
    if (!ref.current) return;
    const chart = echarts.init(ref.current, undefined, { renderer: "svg" });

    const grids: any[] = [];
    const xAxes: any[] = [];
    const yAxes: any[] = [];
    const series: any[] = [];
    const graphics: any[] = [];

    panels.forEach((p, i) => {
      grids.push({ ...p.grid, containLabel: false, outerBoundsMode: "none" });
      xAxes.push({
        type: "value",
        gridIndex: i,
        min: X_MIN,
        max: X_MAX,
        splitNumber: 5,
        name: "Time (s)",
        nameLocation: "middle",
        nameGap: 19,
        nameTextStyle: { fontFamily: SERIF, fontSize: 14, color: LABEL_COLOR },
        axisLine: { show: true, onZero: false, lineStyle: { color: AXIS_COLOR, width: 1 } },
        axisTick: { show: true, inside: true, length: 3, lineStyle: { color: AXIS_COLOR } },
        splitLine: { show: false },
        axisLabel: {
          margin: 5,
          fontFamily: SERIF,
          fontSize: 13,
          color: LABEL_COLOR,
          formatter: (v: number) => (xTicks.some((t) => Math.abs(t - v) < 1e-6) ? String(Math.round(v)) : ""),
        },
      });
      yAxes.push({
        type: "value",
        gridIndex: i,
        min: p.yMin,
        max: p.yMax,
        splitNumber: p.split,
        name: yNames[i],
        nameLocation: "middle",
        nameRotate: 90,
        nameGap: p.nameGap,
        nameTextStyle: { fontFamily: SERIF, fontSize: 14, color: LABEL_COLOR },
        axisLine: { show: true, onZero: false, lineStyle: { color: AXIS_COLOR, width: 1 } },
        axisTick: { show: true, inside: true, length: 3, lineStyle: { color: AXIS_COLOR } },
        splitLine: { show: false },
        axisLabel: {
          margin: 4,
          fontFamily: SERIF,
          fontSize: 13,
          color: LABEL_COLOR,
          formatter: (v: number) => (isMultiple(v, p.step) ? String(Number(v.toFixed(3))) : ""),
        },
      });
      series.push({
        type: "line",
        xAxisIndex: i,
        yAxisIndex: i,
        data: [],
        silent: true,
        z: 1,
        markArea: {
          silent: true,
          data: p.bands.map((b) => [
            { xAxis: b[0], itemStyle: { color: bandColor(b[2]), opacity: 1 } },
            { xAxis: b[1] },
          ]),
        },
      });
      series.push({
        type: "line",
        xAxisIndex: i,
        yAxisIndex: i,
        data: p.data,
        showSymbol: false,
        symbol: "none",
        silent: true,
        z: 3,
        lineStyle: { color: LINE_COLOR, width: 1.2 },
      });
      graphics.push({
        type: "text",
        x: p.cap[0],
        y: p.cap[1],
        style: {
          text: captions[i],
          font: "18px 'Liberation Serif', 'Times New Roman', serif",
          fill: "#000",
          align: "center",
          verticalAlign: "middle",
        },
      });
    });

    chart.setOption({
      animation: false,
      backgroundColor: "#ffffff",
      grid: grids,
      xAxis: xAxes,
      yAxis: yAxes,
      series,
      graphic: graphics,
    });

    return () => chart.dispose();
  }, []);

  return (
    <div
      ref={ref}
      style={{ position: "fixed", left: 0, top: 0, width: 1261, height: 509 }}
    />
  );
}
